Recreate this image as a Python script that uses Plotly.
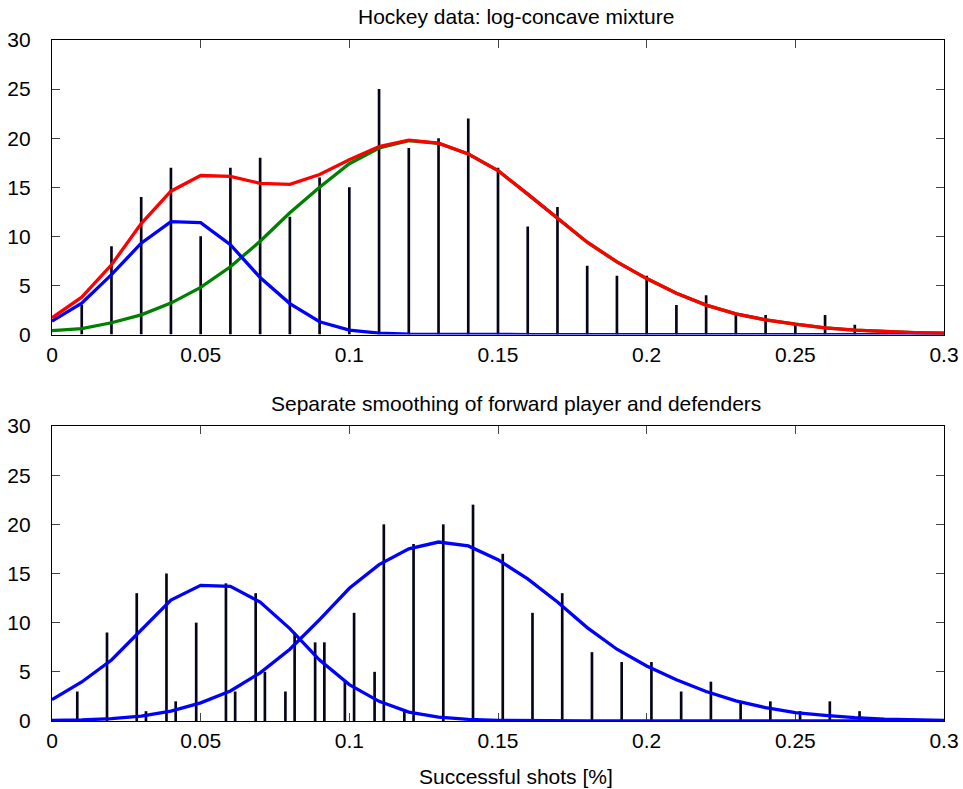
import plotly.graph_objects as go

# ---------------- data ----------------
bins = [round(0.01 * k, 2) for k in range(1, 28)]          # 0.01 .. 0.27
grid = [round(0.01 * k, 2) for k in range(0, 31)]          # 0.00 .. 0.30

total_counts = [3, 9, 14, 17, 10, 17, 18, 12, 16, 15, 25, 19, 20, 22, 17, 11,
                13, 7, 6, 6, 3, 4, 2, 2, 1, 2, 1]

defender_bins = bins[:12]
defender_counts = [3, 9, 13, 15, 10, 14, 13, 3, 8, 4, 5, 1]
forward_counts = [0, 0, 1, 2, 0, 3, 5, 9, 8, 11, 20, 18, 20, 22, 17, 11, 13,
                  7, 6, 6, 3, 4, 2, 2, 1, 2, 1]

# top: log-concave mixture components
mix_total = [1.7, 3.8, 7.1, 11.3, 14.6, 16.2, 16.1, 15.4, 15.3, 16.3, 17.8,
             19.15, 19.8, 19.5, 18.4, 16.7, 14.3, 11.8, 9.4, 7.4, 5.7, 4.2,
             3.0, 2.1, 1.5, 1.05, 0.68, 0.44, 0.3, 0.2, 0.13]
mix_comp1 = [1.36, 3.2, 6.1, 9.3, 11.5, 11.4, 9.15, 5.8, 3.15, 1.3, 0.45,
             0.15, 0.05, 0.02, 0.01, 0, 0, 0, 0, 0, 0, 0, 0, 0, 0, 0, 0, 0,
             0, 0, 0]
mix_comp2 = [0.4, 0.6, 1.2, 2.0, 3.2, 4.8, 6.9, 9.5, 12.4, 15.0, 17.4, 19.0,
             19.75, 19.48, 18.39, 16.7, 14.3, 11.8, 9.4, 7.4, 5.7, 4.2, 3.0,
             2.1, 1.5, 1.05, 0.68, 0.44, 0.3, 0.2, 0.13]

# bottom: separate smoothing
defender_smooth = [2.17, 3.97, 6.2, 9.3, 12.3, 13.8, 13.7, 12.1, 9.4, 6.2,
                   3.7, 2.0, 0.9, 0.4, 0.17, 0.07, 0.03, 0.01, 0, 0, 0, 0, 0,
                   0, 0, 0, 0, 0, 0, 0, 0]
forward_smooth = [0.05, 0.1, 0.25, 0.5, 1.0, 1.85, 3.05, 4.9, 7.3, 10.3, 13.5,
                  15.9, 17.5, 18.2, 17.8, 16.4, 14.45, 12.1, 9.5, 7.3, 5.6,
                  4.2, 3.0, 2.04, 1.36, 0.85, 0.58, 0.34, 0.2, 0.12, 0.07]

x_ticks = [0, 0.05, 0.1, 0.15, 0.2, 0.25, 0.3]
y_ticks = [0, 5, 10, 15, 20, 25, 30]

title_top = "Hockey data: log-concave mixture"
title_bottom = "Separate smoothing of forward player and defenders"
x_label = "Successful shots [%]"

# ---------------- styling ----------------
FONT = "Liberation Sans, Arial, Helvetica, sans-serif"
FS = 21
STEM = "#05051a"
STEM_W = 0.0009
LW = 3.3

fig = go.Figure()

# top panel
fig.add_trace(go.Bar(x=bins, y=total_counts, width=STEM_W, marker_color=STEM,
                     marker_line_width=0, xaxis="x", yaxis="y"))
fig.add_trace(go.Scatter(x=grid, y=mix_comp2, mode="lines",
                         line=dict(color="#008000", width=LW), xaxis="x", yaxis="y"))
fig.add_trace(go.Scatter(x=grid, y=mix_comp1, mode="lines",
                         line=dict(color="#0000ff", width=LW), xaxis="x", yaxis="y"))
fig.add_trace(go.Scatter(x=grid, y=mix_total, mode="lines",
                         line=dict(color="#ff0000", width=LW), xaxis="x", yaxis="y"))

# bottom panel
fig.add_trace(go.Bar(x=defender_bins, y=defender_counts, width=STEM_W,
                     offset=-0.0015 - STEM_W / 2, marker_color=STEM,
                     marker_line_width=0, xaxis="x2", yaxis="y2"))
fig.add_trace(go.Bar(x=bins, y=forward_counts, width=STEM_W,
                     offset=0.0016 - STEM_W / 2, marker_color=STEM,
                     marker_line_width=0, xaxis="x2", yaxis="y2"))
fig.add_trace(go.Scatter(x=grid, y=defender_smooth, mode="lines",
                         line=dict(color="#0000ff", width=LW), xaxis="x2", yaxis="y2"))
fig.add_trace(go.Scatter(x=grid, y=forward_smooth, mode="lines",
                         line=dict(color="#0000ff", width=LW), xaxis="x2", yaxis="y2"))

axis_common = dict(showgrid=False, zeroline=False, showline=True, linecolor="black",
                   linewidth=1.3, mirror="ticks", ticks="inside", ticklen=8,
                   tickwidth=1, tickcolor="#444", layer="below traces",
                   automargin=False,
                   tickfont=dict(family=FONT, size=FS, color="black"))

fig.update_layout(
    width=963, height=789,
    margin=dict(l=52, r=19, t=40, b=68),
    paper_bgcolor="white", plot_bgcolor="white",
    showlegend=False, barmode="overlay",
    font=dict(family=FONT, color="black"),
    xaxis=dict(domain=[0, 1], anchor="y", range=[0, 0.3], tickvals=x_ticks,
               ticktext=[f"{v:g}" for v in x_ticks], ticklabelstandoff=1,
               **axis_common),
    yaxis=dict(domain=[0.5675, 1], anchor="x", range=[0, 30], tickvals=y_ticks,
               ticklabelstandoff=16, **axis_common),
    xaxis2=dict(domain=[0, 1], anchor="y2", range=[0, 0.3], tickvals=x_ticks,
                ticktext=[f"{v:g}" for v in x_ticks], ticklabelstandoff=1,
                **axis_common),
    yaxis2=dict(domain=[0, 0.4332], anchor="x2", range=[0, 30], tickvals=y_ticks,
                ticklabelstandoff=16, **axis_common),
    annotations=[
        dict(text=title_top, xref="paper", yref="paper", x=0.52, y=1.034,
             xanchor="center", yanchor="middle", showarrow=False,
             font=dict(family=FONT, size=FS, color="black")),
        dict(text=title_bottom, xref="paper", yref="paper", x=0.52, y=0.4655,
             xanchor="center", yanchor="middle", showarrow=False,
             font=dict(family=FONT, size=FS, color="black")),
        dict(text=x_label, xref="paper", yref="paper", x=0.52, y=-0.081,
             xanchor="center", yanchor="middle", showarrow=False,
             font=dict(family=FONT, size=FS, color="black")),
    ],
)

# remove the default page margin so the figure fills the 963x789 window exactly
fig.write_html("out.html",
               config={"displayModeBar": False},
               post_script="document.body.style.margin='0';"
                           "document.body.style.overflow='hidden';")
